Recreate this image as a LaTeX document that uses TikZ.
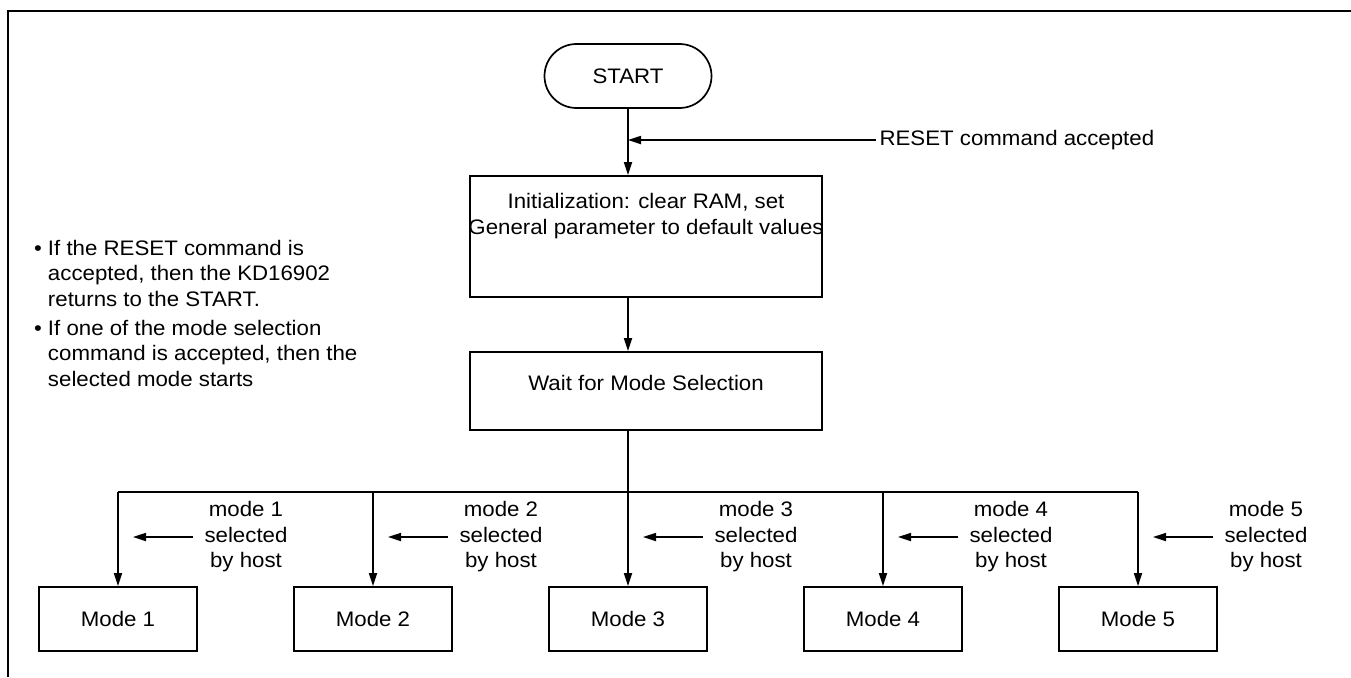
\documentclass[tikz,border=0pt]{standalone}
\usepackage{fontspec}
\setmainfont{Liberation Sans}[FakeStretch=1.06]
\usetikzlibrary{arrows.meta,positioning,calc}

\begin{document}
\begin{tikzpicture}[x=1pt,y=-1pt,% y hacia abajo, en pixeles
  every node/.style={font=\fontsize{21}{25.5}\selectfont},
  box/.style={draw,line width=1.7pt},
  ln/.style={line width=1.7pt},
  arr/.style={line width=1.7pt,-{Triangle[length=13pt,width=8pt]}}]
\useasboundingbox (0,0) rectangle (1351,677);
\draw[ln] (8,677) -- (8,11) -- (1351,11);

\node[box,rounded corners=32pt,minimum width=167pt,minimum height=64pt] (start) at (628,76) {START};
\node[anchor=west] (reset) at (876,140) {RESET command accepted};
\node[box,minimum width=352pt,minimum height=121pt] (init) at (646,236.5) {};
\node[align=center,below=18pt of init.north,inner sep=0pt] (inittxt) {Initialization: clear RAM, set\\General parameter to default values};
\node[box,minimum width=352pt,minimum height=78pt,text depth=16pt] (wait) at (646,391) {Wait for Mode Selection};
\coordinate (bus) at (628,492);

\draw[arr] (start.south) -- (start.south |- init.north);
\draw[arr] (reset.west) -- (reset.west -| start.south);
\draw[arr] (init.south -| start) -- (wait.north -| start);
\draw[ln] (wait.south -| start) -- (bus);

% notas
\node[anchor=north west,inner sep=0pt] (note1) at (34,237) {\begin{tabular}{@{}l@{\hspace{6pt}}l@{}}
  \textbullet & If the RESET command is\\
  & accepted, then the KD16902\\
  & returns to the START.\end{tabular}};
\node[anchor=north west,inner sep=0pt] (note2) at (34,317) {\begin{tabular}{@{}l@{\hspace{6pt}}l@{}}
  \textbullet & If one of the mode selection\\
  & command is accepted, then the\\
  & selected mode starts\end{tabular}};

% modos
\foreach \i/\x in {1/118,2/373,3/628,4/883,5/1138}{
  \node[box,minimum width=158pt,minimum height=64pt] (m\i) at (\x,619) {Mode \i};
  \node[align=center] (sel\i) at (\x+128,537) {mode \i\\selected\\by host};
  \draw[arr] (bus -| m\i) -- (m\i.north);
  \draw[arr] ($(m\i |- sel\i)+(75,0)$) -- ++(-60,0);
}
\draw[ln] (bus -| m1) -- (bus -| m5);
\end{tikzpicture}
\end{document}
